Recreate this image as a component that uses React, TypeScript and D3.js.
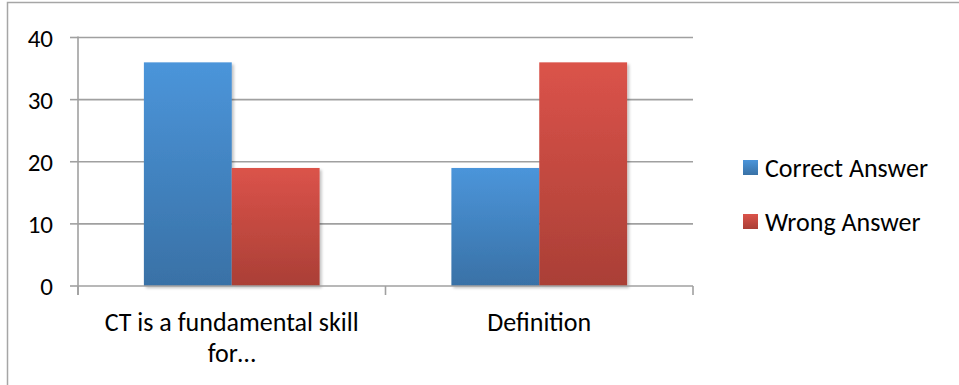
import React from "react";
import * as d3 from "d3";

const categories = ["CT is a fundamental skill for…", "Definition"];
const categoryLines = [["CT is a fundamental skill", "for…"], ["Definition"]];
const seriesNames = ["Correct Answer", "Wrong Answer"];
const correctValues = [36, 19];
const wrongValues = [19, 36];
const yTicks = [0, 10, 20, 30, 40];

const W = 959;
const H = 385;
const margin = { left: 78, right: 266, top: 37.5, bottom: 99 };
const FONT = "Carlito, Calibri, 'Open Sans', sans-serif";

const seriesColors = [
  { top: "#4b95da", bottom: "#3971a6" },
  { top: "#db534a", bottom: "#aa3f36" },
];

export default function App() {
  const x0 = margin.left;
  const x1 = W - margin.right;
  const y0 = H - margin.bottom;
  const y1 = margin.top;

  const x = d3.scaleBand<string>().domain(categories).range([x0, x1]);
  const y = d3.scaleLinear().domain([0, 40]).range([y0, y1]);

  // gap width 150% of one bar: band = 2 bars + 1.5 bars
  const barW = x.bandwidth() / 3.5;
  const series = [correctValues, wrongValues];

  return (
    <svg
      width={W}
      height={H}
      style={{ position: "fixed", left: 0, top: 0, background: "#fff" }}
      fontFamily={FONT}
    >
      <defs>
        {seriesColors.map((c, i) => (
          <linearGradient key={i} id={`g${i}`} x1="0" y1="0" x2="0" y2="1">
            <stop offset="0%" stopColor={c.top} />
            <stop offset="100%" stopColor={c.bottom} />
          </linearGradient>
        ))}
        <filter id="shadow" x="-10%" y="-10%" width="130%" height="130%">
          <feGaussianBlur in="SourceAlpha" stdDeviation="1.5" />
          <feOffset dx="1.5" dy="1.5" result="b" />
          <feComponentTransfer>
            <feFuncA type="linear" slope="0.25" />
          </feComponentTransfer>
          <feMerge>
            <feMergeNode />
            <feMergeNode in="SourceGraphic" />
          </feMerge>
        </filter>
      </defs>

      {/* outer chart frame */}
      <rect x={7.5} y={2.5} width={W + 10} height={H + 10} fill="none" stroke="#a6a6a6" strokeWidth={1.5} />

      {/* gridlines */}
      {yTicks.filter((t) => t > 0).map((t) => (
        <line key={t} x1={x0} x2={x1} y1={y(t)} y2={y(t)} stroke="#a0a0a0" strokeWidth={1.6} />
      ))}

      {/* bars */}
      {categories.map((c, ci) =>
        series.map((vals, si) => {
          const bx = (x(c) as number) + barW * 0.75 + si * barW;
          return (
            <rect
              key={`${ci}-${si}`}
              x={bx}
              y={y(vals[ci])}
              width={barW}
              height={y0 - y(vals[ci])}
              fill={`url(#g${si})`}
              filter="url(#shadow)"
            />
          );
        })
      )}

      {/* y axis */}
      <line x1={x0} x2={x0} y1={y1 - 1} y2={y0 + 9} stroke="#a0a0a0" strokeWidth={1.6} />
      {yTicks.map((t) => (
        <g key={t}>
          <line x1={x0 - 8} x2={x0} y1={y(t)} y2={y(t)} stroke="#a0a0a0" strokeWidth={1.6} />
          <text x={53} y={y(t)} dy="0.36em" textAnchor="end" fontSize={25} fill="#000">
            {t}
          </text>
        </g>
      ))}

      {/* x axis */}
      <line x1={x0} x2={x1} y1={y0} y2={y0} stroke="#a0a0a0" strokeWidth={1.6} />
      {[x0, x0 + x.step(), x1].map((tx, i) => (
        <line key={i} x1={tx} x2={tx} y1={y0} y2={y0 + 9} stroke="#a0a0a0" strokeWidth={1.6} />
      ))}
      {categories.map((c, ci) => (
        <text key={c} textAnchor="middle" fontSize={26} fill="#000">
          {categoryLines[ci].map((ln, li) => (
            <tspan key={li} x={(x(c) as number) + x.bandwidth() / 2} y={331 + li * 31}>
              {ln}
            </tspan>
          ))}
        </text>
      ))}

      {/* legend */}
      {seriesNames.map((n, i) => (
        <g key={n} transform={`translate(743, ${160 + i * 54})`}>
          <rect width={15} height={15} fill={`url(#g${i})`} />
          <text x={22} y={8} dy="0.36em" fontSize={26} fill="#000">
            {n}
          </text>
        </g>
      ))}
    </svg>
  );
}
